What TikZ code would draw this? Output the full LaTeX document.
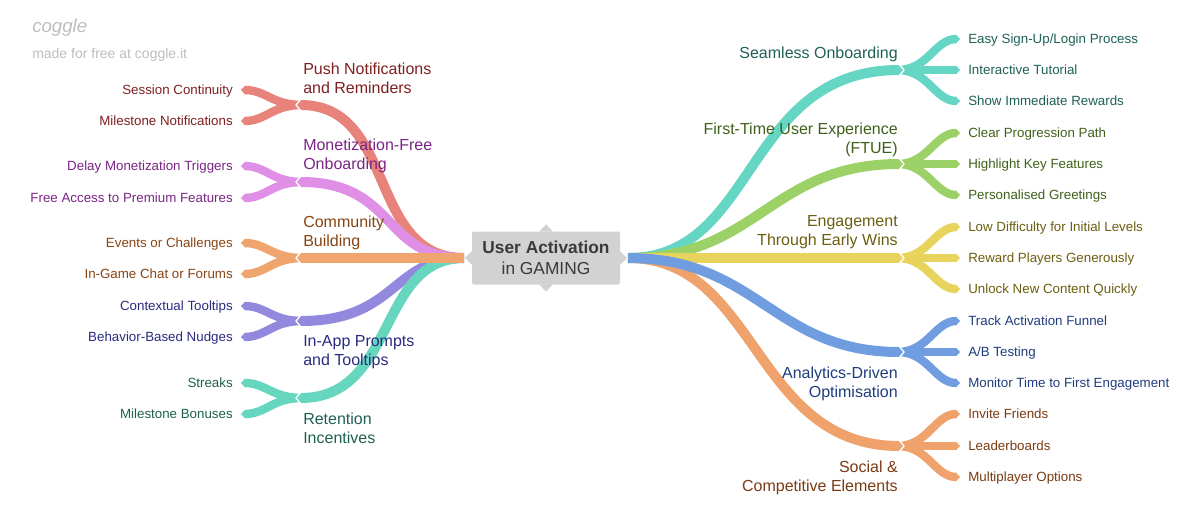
\documentclass[tikz,border=0pt]{standalone}
\usepackage{fontspec}
\setmainfont{Liberation Sans}
\usetikzlibrary{arrows.meta,calc,positioning}

\definecolor{hubfill}{HTML}{D2D2D2}
\definecolor{hubtext}{HTML}{3A3A3A}
\definecolor{wmgray}{HTML}{BDBDBD}
\definecolor{pnBand}{HTML}{E8837B}\definecolor{pnText}{HTML}{7E1F1F}
\definecolor{mfBand}{HTML}{DF8FE6}\definecolor{mfText}{HTML}{7A2585}
\definecolor{cbBand}{HTML}{F0A46E}\definecolor{cbText}{HTML}{874414}
\definecolor{iaBand}{HTML}{9289DF}\definecolor{iaText}{HTML}{2A2A80}
\definecolor{riBand}{HTML}{66D6BE}\definecolor{riText}{HTML}{1E6050}
\definecolor{soBand}{HTML}{66D6C4}\definecolor{soText}{HTML}{1E6055}
\definecolor{ftBand}{HTML}{9CD168}\definecolor{ftText}{HTML}{3F601A}
\definecolor{ewBand}{HTML}{E8D45C}\definecolor{ewText}{HTML}{6B5E10}
\definecolor{adBand}{HTML}{6F9DE0}\definecolor{adText}{HTML}{1F3C7C}
\definecolor{scBand}{HTML}{F0A26C}\definecolor{scText}{HTML}{7A3A12}

\tikzset{
  band/.style={line width=7.5pt,-{Triangle[length=3pt,width=7.5pt]}},
  arm/.style={line width=6.3pt,-{Triangle[length=3pt,width=6.3pt]}},
  notch/.style={white,line width=1pt},
  leafR/.style={anchor=west,inner xsep=6pt,inner ysep=0pt,text height=9.3pt,text depth=2.14pt,
    font=\fontsize{10}{12}\selectfont},
  leafL/.style={anchor=east,inner xsep=6pt,inner ysep=0pt,text height=9.3pt,text depth=2.14pt,
    font=\fontsize{10}{12}\selectfont},
  mainR/.style={anchor=east,inner sep=0pt,align=right,font=\fontsize{12}{14.3}\selectfont},
  mainL/.style={anchor=west,inner sep=0pt,align=left,font=\fontsize{12}{14.3}\selectfont},
  hub/.style={fill=hubfill,text=hubtext,rounded corners=1.5pt,minimum width=111pt,
    minimum height=39.75pt,align=center,font=\fontsize{13}{15.75}\selectfont}
}

\begin{document}
\begin{tikzpicture}[x=0.75pt,y=-0.75pt]
\useasboundingbox (0,0) rectangle (1200,522);

\node[anchor=west,inner sep=0pt,text=wmgray,font=\fontsize{14}{14}\selectfont\itshape] (logo) at (32,28) {coggle};
\node[anchor=west,inner sep=0pt,text=wmgray,font=\fontsize{10.5}{12}\selectfont] (made) at (32,55) {made for free at coggle.it};

\coordinate (L) at (464,258);
\coordinate (R) at (628,258);
\coordinate (PN) at (297,105);
\coordinate (MF) at (297,182);
\coordinate (CB) at (297,258);
\coordinate (IA) at (297,321);
\coordinate (RI) at (297,398);
\coordinate (SO) at (903,70);
\coordinate (FT) at (903,164);
\coordinate (EW) at (903,258);
\coordinate (AD) at (903,352);
\coordinate (SC) at (903,446);

% leaves, left side
\node[leafL,text=pnText] (pn1) at (241,90) {Session Continuity};
\node[leafL,text=pnText] (pn2) at (241,121) {Milestone Notifications};
\node[leafL,text=mfText] (mf1) at (241,166) {Delay Monetization Triggers};
\node[leafL,text=mfText] (mf2) at (241,198) {Free Access to Premium Features};
\node[leafL,text=cbText] (cb1) at (241,243) {Events or Challenges};
\node[leafL,text=cbText] (cb2) at (241,274) {In-Game Chat or Forums};
\node[leafL,text=iaText] (ia1) at (241,306) {Contextual Tooltips};
\node[leafL,text=iaText] (ia2) at (241,337) {Behavior-Based Nudges};
\node[leafL,text=riText] (ri1) at (241,383) {Streaks};
\node[leafL,text=riText] (ri2) at (241,414) {Milestone Bonuses};

% leaves, right side
\node[leafR,text=soText] (so1) at (960,39) {Easy Sign-Up/Login Process};
\node[leafR,text=soText] (so2) at (960,70) {Interactive Tutorial};
\node[leafR,text=soText] (so3) at (960,101) {Show Immediate Rewards};
\node[leafR,text=ftText] (ft1) at (960,133) {Clear Progression Path};
\node[leafR,text=ftText] (ft2) at (960,164) {Highlight Key Features};
\node[leafR,text=ftText] (ft3) at (960,195) {Personalised Greetings};
\node[leafR,text=ewText] (ew1) at (960,227) {Low Difficulty for Initial Levels};
\node[leafR,text=ewText] (ew2) at (960,258) {Reward Players Generously};
\node[leafR,text=ewText] (ew3) at (960,289) {Unlock New Content Quickly};
\node[leafR,text=adText] (ad1) at (960,321) {Track Activation Funnel};
\node[leafR,text=adText] (ad2) at (960,352) {A/B Testing};
\node[leafR,text=adText] (ad3) at (960,383) {Monitor Time to First Engagement};
\node[leafR,text=scText] (sc1) at (960,414) {Invite Friends};
\node[leafR,text=scText] (sc2) at (960,446) {Leaderboards};
\node[leafR,text=scText] (sc3) at (960,477) {Multiplayer Options};

% forks
\foreach \leaf in {pn1,pn2} \draw[arm,pnBand] ($(PN)+(5,0)$) .. controls +(-30,0) and +(25,0) .. (\leaf.east);
\foreach \leaf in {mf1,mf2} \draw[arm,mfBand] ($(MF)+(5,0)$) .. controls +(-30,0) and +(25,0) .. (\leaf.east);
\foreach \leaf in {cb1,cb2} \draw[arm,cbBand] ($(CB)+(5,0)$) .. controls +(-30,0) and +(25,0) .. (\leaf.east);
\foreach \leaf in {ia1,ia2} \draw[arm,iaBand] ($(IA)+(5,0)$) .. controls +(-30,0) and +(25,0) .. (\leaf.east);
\foreach \leaf in {ri1,ri2} \draw[arm,riBand] ($(RI)+(5,0)$) .. controls +(-30,0) and +(25,0) .. (\leaf.east);
\foreach \leaf in {so1,so2,so3} \draw[arm,soBand] ($(SO)+(-5,0)$) .. controls +(30,0) and +(-25,0) .. (\leaf.west);
\foreach \leaf in {ft1,ft2,ft3} \draw[arm,ftBand] ($(FT)+(-5,0)$) .. controls +(30,0) and +(-25,0) .. (\leaf.west);
\foreach \leaf in {ew1,ew2,ew3} \draw[arm,ewBand] ($(EW)+(-5,0)$) .. controls +(30,0) and +(-25,0) .. (\leaf.west);
\foreach \leaf in {ad1,ad2,ad3} \draw[arm,adBand] ($(AD)+(-5,0)$) .. controls +(30,0) and +(-25,0) .. (\leaf.west);
\foreach \leaf in {sc1,sc2,sc3} \draw[arm,scBand] ($(SC)+(-5,0)$) .. controls +(30,0) and +(-25,0) .. (\leaf.west);

% main branches
\draw[band,pnBand] (L) .. controls +(-97,0) and +(100,0) .. (PN);
\draw[band,mfBand] (L) .. controls +(-82,0) and +(100,0) .. (MF);
\draw[band,iaBand] (L) .. controls +(-72,0) and +(100,0) .. (IA);
\draw[band,riBand] (L) .. controls +(-87,0) and +(100,0) .. (RI);
\draw[band,cbBand] (L) -- (CB);
\draw[band,soBand] (R) .. controls +(130,0) and +(-160,0) .. (SO);
\draw[band,ftBand] (R) .. controls +(130,0) and +(-133,0) .. (FT);
\draw[band,scBand] (R) .. controls +(130,0) and +(-150,0) .. (SC);
\draw[band,ewBand] (R) -- (EW);
\draw[band,adBand] (R) .. controls +(130,0) and +(-130,0) .. (AD);

\foreach \c in {PN,MF,CB,IA,RI} \draw[notch] ($(\c)+(4,-6)$) -- ($(\c)+(-1,0)$) -- ($(\c)+(4,6)$);
\foreach \c in {SO,FT,EW,AD,SC} \draw[notch] ($(\c)+(-4,-6)$) -- ($(\c)+(1,0)$) -- ($(\c)+(-4,6)$);

% branch labels
\node[mainL,text=pnText] (pnL) at (303,78) {Push Notifications\\and Reminders};
\node[mainL,text=mfText] (mfL) at (303,155.5) {Monetization-Free\\Onboarding};
\node[mainL,text=cbText] (cbL) at (303,232.5) {Community\\Building};
\node[mainL,text=iaText] (iaL) at (303,352.5) {In-App Prompts\\and Tooltips};
\node[mainL,text=riText] (riL) at (303,428) {Retention\\Incentives};
\node[mainR,text=soText] (soL) at (898,54) {Seamless Onboarding};
\node[mainR,text=ftText] (ftL) at (898,139.5) {First-Time User Experience\\(FTUE)};
\node[mainR,text=ewText] (ewL) at (898,232.5) {Engagement\\Through Early Wins};
\node[mainR,text=adText] (adL) at (898,383.5) {Analytics-Driven\\Optimisation};
\node[mainR,text=scText] (scL) at (898,477.5) {Social \&\\Competitive Elements};

% central topic
\node[hub] (UA) at (546,258) {\textbf{User Activation}\\in GAMING};
\fill[hubfill] ($(UA.north)+(-7,0.5)$) -- ($(UA.north)+(0,-7)$) -- ($(UA.north)+(7,0.5)$) -- cycle;
\fill[hubfill] ($(UA.south)+(-7,-0.5)$) -- ($(UA.south)+(0,7)$) -- ($(UA.south)+(7,-0.5)$) -- cycle;
\fill[hubfill] ($(UA.west)+(0.5,-7)$) -- ($(UA.west)+(-7,0)$) -- ($(UA.west)+(0.5,7)$) -- cycle;
\fill[hubfill] ($(UA.east)+(-0.5,-7)$) -- ($(UA.east)+(7,0)$) -- ($(UA.east)+(-0.5,7)$) -- cycle;
\end{tikzpicture}
\end{document}
